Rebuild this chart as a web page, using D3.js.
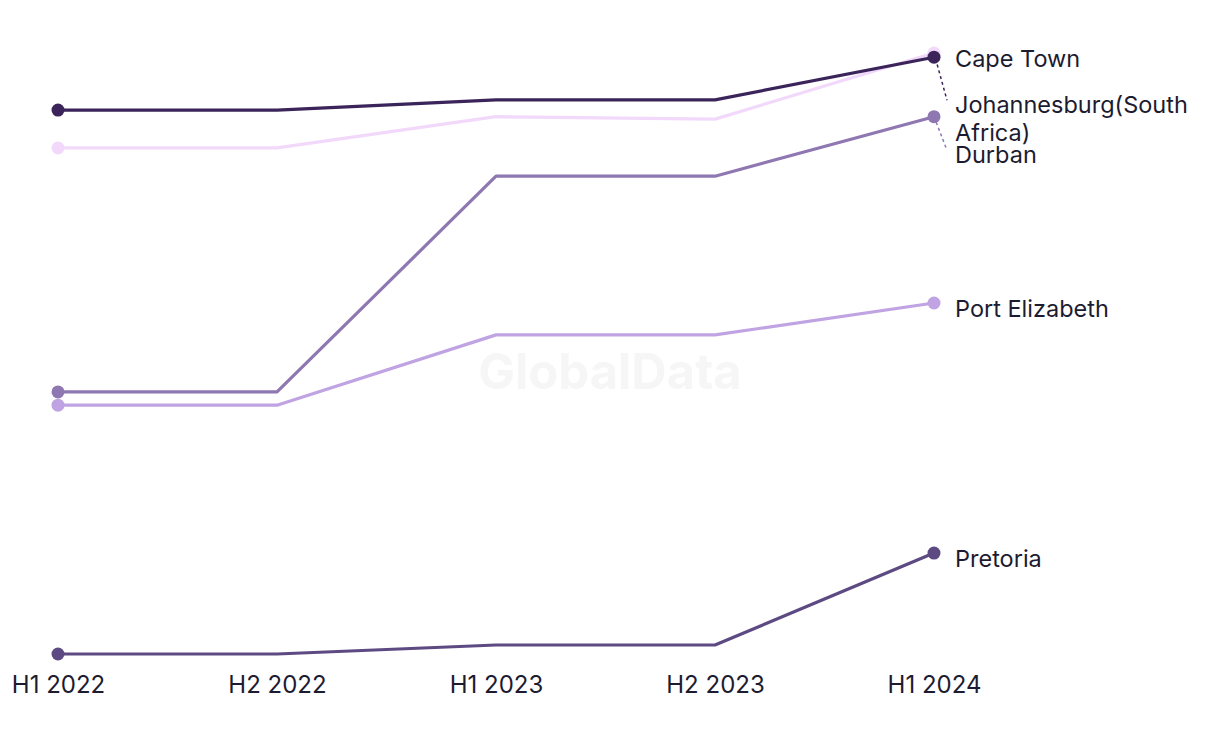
<!DOCTYPE html>
<html>
<head>
<meta charset="utf-8">
<script src="https://cdn.jsdelivr.net/npm/d3@7"></script>
<style>
  html, body { margin: 0; padding: 0; background: #ffffff; }
  svg { display: block; }
  text { font-family: Inter, "Open Sans", sans-serif; }
</style>
</head>
<body>
<svg id="chart" width="1220" height="744"></svg>
<script>
// ---- data ----
const periods = ["H1 2022", "H2 2022", "H1 2023", "H2 2023", "H1 2024"];
const seriesNames = ["Cape Town", "Johannesburg(South Africa)", "Durban", "Port Elizabeth", "Pretoria"];
const capeTown      = [90.5, 90.5, 92.2, 92.2, 99.3];
const johannesburg  = [84.2, 84.2, 89.4, 89.0, 100.0];
const durban        = [43.6, 43.6, 79.5, 79.5, 89.4];
const portElizabeth = [41.4, 41.4, 53.1, 53.1, 58.4];
const pretoria      = [0.0, 0.0, 1.5, 1.5, 16.8];
const seriesColors  = ["#3b2459", "#f2d9fb", "#8f77b1", "#c0a3e2", "#5d4a82"];

const seriesValues = [capeTown, johannesburg, durban, portElizabeth, pretoria];
const series = seriesNames.map((name, i) => ({
  name, color: seriesColors[i],
  values: seriesValues[i].map((v, j) => ({ period: periods[j], value: v }))
}));

// ---- layout ----
const svg = d3.select("#chart");
const x = d3.scalePoint().domain(periods).range([58, 934]);
const y = d3.scaleLinear().domain([0, 100]).range([654, 53]);

// watermark
svg.append("text")
  .attr("x", 610).attr("y", 389)
  .attr("text-anchor", "middle")
  .attr("font-size", 49).attr("font-weight", 700)
  .attr("fill", "#f6f6f6")
  .text("GlobalData");

// x axis (labels only)
const xAxis = d3.axisBottom(x).tickSize(0).tickPadding(0);
const gx = svg.append("g").attr("transform", "translate(0,676)").call(xAxis);
gx.select(".domain").remove();
gx.selectAll("text")
  .attr("font-size", 24).attr("fill", "#1d1b2f")
  .attr("font-family", "Inter, sans-serif")
  .attr("dy", "0.71em");

const line = d3.line().x(d => x(d.period)).y(d => y(d.value));

const drawOrder = [1, 3, 2, 4, 0];
drawOrder.forEach(i => {
  const s = series[i];
  const g = svg.append("g");
  g.append("path").datum(s.values)
    .attr("fill", "none").attr("stroke", s.color)
    .attr("stroke-width", 3.2).attr("stroke-linejoin", "round")
    .attr("d", line);
  const ends = [s.values[0], s.values[s.values.length - 1]];
  g.selectAll("circle").data(ends).join("circle")
    .attr("cx", d => x(d.period)).attr("cy", d => y(d.value))
    .attr("r", 6.5).attr("fill", s.color);
});

// end labels with simple collision avoidance
const lineH = 28;
const labelX = 955;
const labels = series.map(s => {
  const last = s.values[s.values.length - 1];
  return { s, dotY: y(last.value), y: y(last.value) + 8 };
});
labels[0].y -= 4;
const wrapMap = { "Johannesburg(South Africa)": ["Johannesburg(South", "Africa)"] };
labels.forEach(l => { l.lines = wrapMap[l.s.name] || [l.s.name]; });
for (let i = 1; i < labels.length; i++) {
  const prev = labels[i - 1];
  const gap = prev.lines.length > 1 ? 50 : 46;
  if (labels[i].y < prev.y + gap) labels[i].y = prev.y + gap;
}

labels.forEach((l, i) => {
  if (Math.abs(l.y - l.dotY) > 12) {
    svg.append("line")
      .attr("x1", x(periods[periods.length - 1])).attr("y1", l.dotY)
      .attr("x2", 947).attr("y2", l.y - 7)
      .attr("stroke", i === 1 ? seriesColors[0] : l.s.color)
      .attr("stroke-width", 1.5)
      .attr("stroke-dasharray", "3,3");
  }
  const t = svg.append("text")
    .attr("x", labelX).attr("y", l.y)
    .attr("font-size", 23.5).attr("fill", "#1d1b2f")
    .attr("dominant-baseline", "middle");
  l.lines.forEach((ln, k) => {
    t.append("tspan").attr("x", labelX).attr("dy", k === 0 ? 0 : lineH).text(ln);
  });
});
</script>
</body>
</html>
